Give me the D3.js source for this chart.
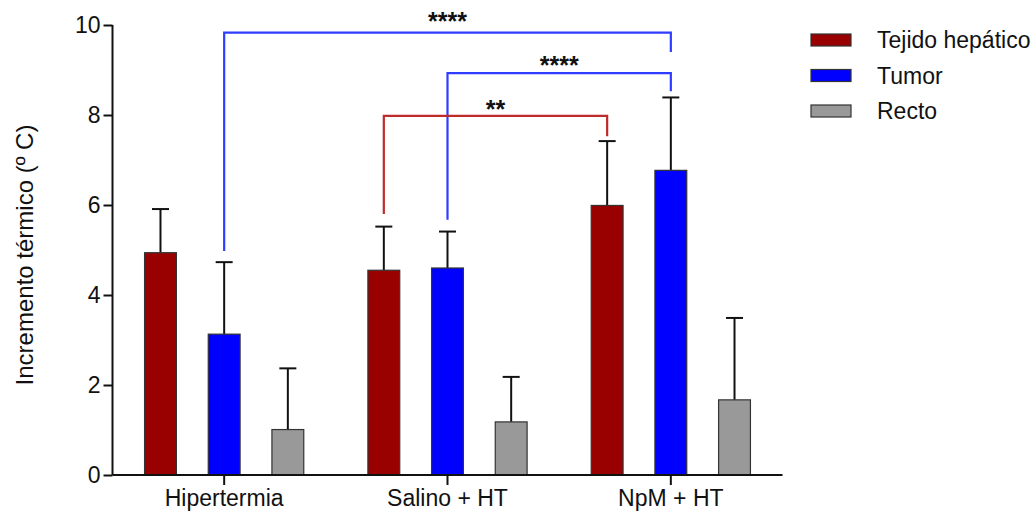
<!DOCTYPE html>
<html>
<head>
<meta charset="utf-8">
<script src="https://cdn.jsdelivr.net/npm/d3@7"></script>
<style>
  body { margin: 0; background: #fff; }
  svg { display: block; font-family: "Liberation Sans", Arial, sans-serif; }
</style>
</head>
<body>
<svg id="chart" width="1035" height="513"></svg>
<script>
// ---- data ----
const categories = ["Hipertermia", "Salino + HT", "NpM + HT"];
const seriesNames = ["Tejido hepático", "Tumor", "Recto"];
const seriesColors = ["#990000", "#0000ff", "#999999"];
const hepatico = [4.94, 4.55, 5.99];
const hepaticoSD = [0.97, 0.97, 1.43];
const tumor = [3.13, 4.60, 6.77];
const tumorSD = [1.60, 0.81, 1.62];
const recto = [1.01, 1.18, 1.67];
const rectoSD = [1.36, 1.00, 1.82];
const yTicks = [0, 2, 4, 6, 8, 10];
const yLabel = "Incremento térmico (º C)";
// significance brackets: [from category, from series], [to category, to series], level, leg ends (data units)
const brackets = [
  { from: [0, 1], to: [2, 1], level: 9.83, fromEnd: 4.98, toEnd: 9.40, label: "****", color: "#2e3dff", off: 15 },
  { from: [1, 1], to: [2, 1], level: 8.93, fromEnd: 5.67, toEnd: 8.53, label: "****", color: "#2e3dff", off: 11 },
  { from: [1, 0], to: [2, 0], level: 7.98, fromEnd: 5.80, toEnd: 7.53, label: "**", color: "#bf2a2a", off: 10 }
];

const values = [hepatico, tumor, recto];
const sds = [hepaticoSD, tumorSD, rectoSD];

const svg = d3.select("#chart");
const x0 = d3.scaleBand().domain(categories).range([112.5, 782.5]).paddingInner(0).paddingOuter(0);
const x1 = d3.scaleBand().domain(seriesNames).range([-79.6, 79.6]).paddingInner(0.5).paddingOuter(0);
const y = d3.scaleLinear().domain([0, 10]).range([475, 25]);

const barW = x1.bandwidth();
function cx(ci, si) { return x0(categories[ci]) + x0.bandwidth() / 2 + x1(seriesNames[si]) + barW / 2; }

// bars
seriesNames.forEach((s, si) => {
  const g = svg.append("g");
  categories.forEach((c, ci) => {
    const v = values[si][ci], sd = sds[si][ci];
    const xc = cx(ci, si);
    g.append("line").attr("x1", xc).attr("x2", xc).attr("y1", y(v)).attr("y2", y(v + sd))
      .attr("stroke", "#111").attr("stroke-width", 2);
    g.append("line").attr("x1", xc - 8.5).attr("x2", xc + 8.5).attr("y1", y(v + sd)).attr("y2", y(v + sd))
      .attr("stroke", "#111").attr("stroke-width", 2);
    g.append("rect").attr("x", xc - barW / 2).attr("y", y(v)).attr("width", barW).attr("height", y(0) - y(v))
      .attr("fill", seriesColors[si]).attr("stroke", "#333").attr("stroke-width", 1.2);
  });
});

// axes
const yAxis = d3.axisLeft(y).tickValues(yTicks).tickSize(9).tickPadding(3);
const gy = svg.append("g").attr("transform", "translate(112.5,0)").call(yAxis);
gy.select(".domain").attr("stroke", "#111").attr("stroke-width", 2).attr("d", "M0," + y(10) + "V" + y(0));
gy.selectAll(".tick line").attr("stroke", "#111").attr("stroke-width", 2);
gy.selectAll(".tick text").attr("font-size", 23).attr("fill", "#111")
  .attr("font-family", "Liberation Sans, Arial, sans-serif");

const xAxis = d3.axisBottom(x0).tickSize(10).tickPadding(5);
const gx = svg.append("g").attr("transform", "translate(0,475)").call(xAxis);
gx.select(".domain").attr("stroke", "#111").attr("stroke-width", 2).attr("d", "M112.5,0H782.5");
gx.selectAll(".tick line").attr("stroke", "#111").attr("stroke-width", 2);
gx.selectAll(".tick text").attr("font-size", 23).attr("fill", "#111")
  .attr("font-family", "Liberation Sans, Arial, sans-serif");

// y label
svg.append("text").attr("transform", "translate(33,255) rotate(-90)")
  .attr("text-anchor", "middle").attr("font-size", 24).attr("fill", "#111").text(yLabel);

// brackets
brackets.forEach(b => {
  const xa = cx(b.from[0], b.from[1]), xb = cx(b.to[0], b.to[1]);
  svg.append("path")
    .attr("d", `M${xa},${y(b.level)}V${y(b.level)}`)
    .attr("fill", "none");
  svg.append("path")
    .attr("d", `M${xa},${y(b.fromEnd)}V${y(b.level)}H${xb}V${y(b.toEnd)}`)
    .attr("fill", "none").attr("stroke", b.color).attr("stroke-width", 2.2);
  svg.append("text").attr("x", (xa + xb) / 2).attr("y", y(b.level) - b.off + 12)
    .attr("text-anchor", "middle").attr("font-size", 25).attr("font-weight", "bold")
    .attr("fill", "#111").text(b.label);
});

// legend
const leg = svg.append("g");
seriesNames.forEach((s, i) => {
  const cy = 40 + i * 35.5;
  leg.append("rect").attr("x", 811).attr("y", cy - 6).attr("width", 40).attr("height", 12)
    .attr("fill", seriesColors[i]).attr("stroke", "#333").attr("stroke-width", 1.2);
  leg.append("text").attr("x", 877).attr("y", cy).attr("dy", "0.36em")
    .attr("font-size", 23).attr("fill", "#111").text(s);
});
</script>
</body>
</html>
